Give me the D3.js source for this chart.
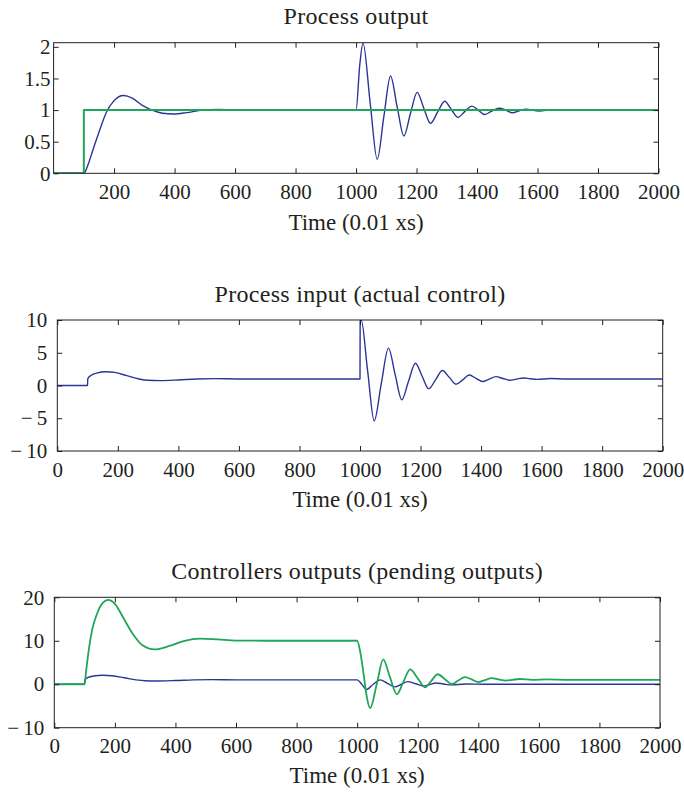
<!DOCTYPE html>
<html>
<head>
<meta charset="utf-8">
<script src="https://cdn.jsdelivr.net/npm/d3@7"></script>
<style>
  body { margin: 0; background: #fff; }
</style>
</head>
<body>
<div id="my_dataviz"></div>
<script>
// tick labels
const ticks_x_top = [200,400,600,800,1000,1200,1400,1600,1800,2000]
const ticks_x = [0,200,400,600,800,1000,1200,1400,1600,1800,2000]
const ticks_y_out = [0,0.5,1,1.5,2]
const ticks_y_in = [-10,-5,0,5,10]
const ticks_y_ctrl = [-10,0,10,20]

// process output (blue) and reference (green)
const out_t = [0,100,105,115,130,150,175,200,231,260,295,330,360,396,440,485,545,620,1000,
  1012,1023,1047,1070,1092,1114,1136,1158,1180,1202,1224,1246,1270,1293,1315,1337,1360,1383,
  1404,1425,1449,1473,1495,1517,1540,1561,1605,1650,1700,2000]
const out_y = [0,0,0.03,0.15,0.37,0.65,0.97,1.15,1.23,1.19,1.07,0.99,0.95,0.937,0.96,0.995,1.012,1.0,1.0,
  1.7,2.06,1.1,0.22,0.9,1.54,1.05,0.59,0.95,1.28,1.03,0.79,0.97,1.14,1.01,0.885,0.98,1.063,
  1.0,0.93,0.985,1.03,1.0,0.957,0.99,1.015,0.985,1.008,1.0,1.0]
const ref_t = [0,100,100,2000]
const ref_y = [0,0,1,1]

// process input, actual control (blue)
const in_t = [0,100,100.5,110,130,160,190,230,270,300,340,400,460,520,600,1000,1000.5,1004,1025,
  1047,1070,1094,1116,1138,1160,1183,1205,1227,1250,1272,1295,1317,1340,1361,1383,1405,1427,
  1449,1472,1494,1517,1540,1562,1585,1630,1680,2000]
const in_y = [0,0,1.0,1.5,1.9,2.1,2.0,1.5,1.0,0.8,0.75,0.85,1.0,1.05,1.0,1.0,9.8,10,2.3,
  -5.4,0.2,5.7,1.7,-2.2,0.6,3.4,1.45,-0.5,0.9,2.3,1.25,0.2,0.9,1.6,1.1,0.6,0.98,
  1.35,1.07,0.8,0.98,1.15,1.04,0.93,1.07,1.0,1.0]

// controllers outputs (pending outputs)
const ctrl_blue_t = [0,100,100.5,110,130,160,190,230,270,300,340,400,460,520,600,1000,1015,
  1031,1053,1076,1100,1125,1146,1167,1193,1219,1240,1260,1285,1310,1360,1420,2000]
const ctrl_blue_y = [0,0,1.0,1.5,1.9,2.05,1.95,1.5,1.0,0.8,0.75,0.85,1.0,1.05,1.0,1.0,0.0,
  -1.2,0.0,1.0,0.2,-0.6,0.0,0.6,0.1,-0.4,-0.05,0.3,0.05,-0.15,0.05,0.0,0.0]
const ctrl_green_t = [0,100,105,115,125,140,160,178,200,230,260,290,332,380,430,481,540,600,700,1000,
  1010,1021,1032,1043,1065,1086,1108,1131,1153,1175,1200,1224,1245,1266,1290,1312,1334,1356,
  1378,1400,1422,1444,1467,1490,1512,1535,1580,1625,1700,2000]
const ctrl_green_y = [0,0,3,8.5,12.5,16,18.7,19.4,18.5,15,11.5,9,8.0,8.8,10.0,10.5,10.3,10.05,10.0,10.0,
  7.5,2.5,-3,-5.5,0.1,5.7,1.7,-2.3,0.6,3.4,1.35,-0.7,0.8,2.3,1.15,0.05,0.85,1.65,
  1.1,0.5,0.95,1.4,1.1,0.85,1.0,1.2,1.0,1.1,1.0,1.0]

const blue = "#2b3595"
const green = "#1fa65a"
const serif = "'Liberation Serif', 'DejaVu Serif', serif"

const svg = d3.select("#my_dataviz").append("svg")
  .attr("width", 684)
  .attr("height", 792)

function zip(ts, ys) { return ts.map((t, i) => ({t: t, v: ys[i]})); }

function drawPanel(cfg) {
  var g = svg.append("g")
  var x = d3.scaleLinear().domain([0, 2000]).range([cfg.left, cfg.right])
  var y = d3.scaleLinear().domain(cfg.ydomain).range([cfg.bottom, cfg.top])
  var fmt = d => d < 0 ? "\u2212\u2009" + Math.abs(d) : String(d)

  var clipId = "clip" + cfg.id
  g.append("clipPath").attr("id", clipId).append("rect")
    .attr("x", cfg.left).attr("y", cfg.top)
    .attr("width", cfg.right - cfg.left).attr("height", cfg.bottom - cfg.top)

  var line = d3.line()
    .x(d => x(d.t))
    .y(d => y(d.v))

  cfg.series.forEach(function(s) {
    g.append("path")
      .datum(zip(s.t, s.y))
      .attr("clip-path", "url(#" + clipId + ")")
      .attr("fill", "none")
      .attr("stroke", s.color)
      .attr("stroke-width", s.width)
      .attr("stroke-linejoin", "round")
      .attr("d", line.curve(s.step ? d3.curveLinear : d3.curveMonotoneX))
  })

  // bottom axis with labels, inward ticks
  var ax = g.append("g").attr("transform", "translate(0," + cfg.bottom + ")")
    .call(d3.axisBottom(x).tickValues(cfg.xticks).tickSize(-5).tickPadding(cfg.xpad).tickFormat(fmt))
  var at = g.append("g").attr("transform", "translate(0," + cfg.top + ")")
    .call(d3.axisTop(x).tickValues(cfg.xticks).tickSize(-5).tickFormat(""))
  var ay = g.append("g").attr("transform", "translate(" + cfg.left + ",0)")
    .call(d3.axisLeft(y).tickValues(cfg.yticks).tickSize(-5).tickPadding(cfg.ypad).tickFormat(fmt))
  var ar = g.append("g").attr("transform", "translate(" + cfg.right + ",0)")
    .call(d3.axisRight(y).tickValues(cfg.yticks).tickSize(-5).tickFormat(""))
  ;[ax, at, ay, ar].forEach(function(a) {
    a.attr("font-family", null)
    a.select(".domain").remove()
    a.selectAll("line").attr("stroke", "#231f20")
    a.selectAll("text")
      .style("font-family", serif)
      .style("font-size", "21px")
      .attr("fill", "#231f20")
  })

  g.append("rect")
    .attr("x", cfg.left).attr("y", cfg.top)
    .attr("width", cfg.right - cfg.left).attr("height", cfg.bottom - cfg.top)
    .attr("fill", "none").attr("stroke", "#231f20").attr("stroke-width", 1)

  // title
  g.append("text")
    .attr("x", (cfg.left + cfg.right) / 2)
    .attr("y", cfg.titleY)
    .attr("text-anchor", "middle")
    .attr("fill", "#231f20")
    .style("font-family", serif)
    .style("font-size", "24px")
    .style("letter-spacing", "0.3px")
    .text(cfg.title)

  // x title
  g.append("text")
    .attr("x", (cfg.left + cfg.right) / 2)
    .attr("y", cfg.labelY)
    .attr("text-anchor", "middle")
    .attr("fill", "#231f20")
    .style("font-family", serif)
    .style("font-size", "23px")
    .text("Time (0.01 xs)")
}

drawPanel({
  id: 1, left: 53.6, right: 658.5, top: 42.7, bottom: 173.3,
  ydomain: [0, 2.066], yticks: ticks_y_out, xticks: ticks_x_top,
  xpad: 11, ypad: 3, titleY: 24, labelY: 230,
  title: "Process output",
  series: [
    {t: out_t, y: out_y, color: blue, width: 1.4},
    {t: ref_t, y: ref_y, color: green, width: 2, step: true}
  ]
})

drawPanel({
  id: 2, left: 57.3, right: 662.7, top: 320, bottom: 451,
  ydomain: [-10, 10], yticks: ticks_y_in, xticks: ticks_x,
  xpad: 11, ypad: 10, titleY: 302, labelY: 507,
  title: "Process input (actual control)",
  series: [
    {t: in_t, y: in_y, color: blue, width: 1.4}
  ]
})

drawPanel({
  id: 3, left: 54.3, right: 660, top: 597.3, bottom: 727.7,
  ydomain: [-10, 20], yticks: ticks_y_ctrl, xticks: ticks_x,
  xpad: 10.5, ypad: 10, titleY: 579, labelY: 783,
  title: "Controllers outputs (pending outputs)",
  series: [
    {t: ctrl_blue_t, y: ctrl_blue_y, color: blue, width: 1.4},
    {t: ctrl_green_t, y: ctrl_green_y, color: green, width: 1.8}
  ]
})
</script>
</body>
</html>
